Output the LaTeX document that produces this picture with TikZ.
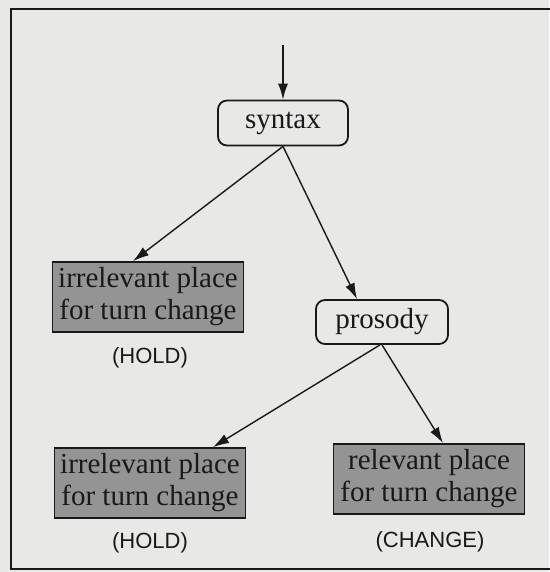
\documentclass[tikz,border=0pt]{standalone}
\usepackage{fontspec}
\setmainfont{Liberation Serif}
\newfontfamily\labelfont{Liberation Sans}
\usetikzlibrary{calc,arrows.meta}
\definecolor{paper}{RGB}{232,232,230}
\definecolor{boxgray}{RGB}{148,148,148}
\definecolor{ink}{RGB}{25,25,25}
\tikzset{
  roundbox/.style={draw=ink, line width=1.8pt, rounded corners=9pt, fill=paper,
    minimum width=#1, minimum height=44pt, inner sep=0pt,
    font=\fontsize{29}{32}\selectfont, text=ink},
  graybox/.style={draw=ink, line width=1.8pt, fill=boxgray,
    minimum width=191pt, minimum height=70pt, inner sep=0pt, align=center,
    font=\fontsize{29}{32}\selectfont, text=ink},
  caption/.style={font=\labelfont\fontsize{22}{24}\selectfont, text=ink},
  conn/.style={draw=ink, line width=1.4pt, -{Latex[length=16pt,width=10pt]}}
}
\begin{document}
\begin{tikzpicture}[x=1pt,y=-1pt]
\fill[paper] (0,0) rectangle (549,572);
\useasboundingbox (0,0) rectangle (549,572);
\draw[ink, line width=2pt] (11,9) rectangle (562,569);

\coordinate (top) at (283,45);
\node[roundbox=130pt, minimum height=45pt] (syntax) at (283,123) {syntax};
\node[graybox] (irr1) at (148,297) {irrelevant place\\for turn change};
\node[caption] (hold1) at (150,358) {(HOLD)};
\node[roundbox=132pt] (prosody) at (382,322) {prosody};
\node[graybox] (irr2) at (150,483) {irrelevant place\\for turn change};
\node[caption] (hold2) at (150,543) {(HOLD)};
\node[graybox] (rel) at (429,479) {relevant place\\for turn change};
\node[caption] (change) at (430,542) {(CHANGE)};

\draw[conn] (top) -- (syntax.north);
\draw[conn] (syntax.south) -- ($(irr1.north)+(-15,0)$);
\draw[conn] (syntax.south) -- ($(prosody.north)+(-25,0)$);
\draw[conn] ($(prosody.south)+(-2,0)$) -- ($(irr2.north)+(63,0)$);
\draw[conn] (prosody.south) -- ($(rel.north)+(14,0)$);
\end{tikzpicture}
\end{document}
